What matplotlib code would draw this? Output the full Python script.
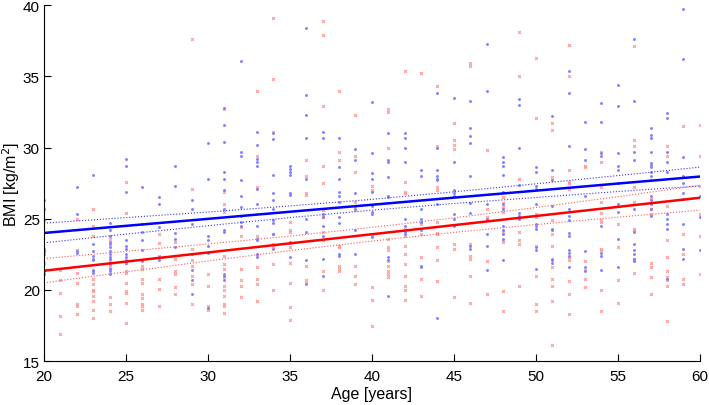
#!/usr/bin/env python

import numpy as np
from matplotlib import pyplot as plt

plt.rcParams['font.family'] = ['Liberation Sans', 'DejaVu Sans']

# scatter data: (age, BMI) read per integer age
blue_pts = {
    20: [26.3, 25.7, 24.9, 22.9, 22.7, 22.5, 21.4, 21.3, 21.1],
    22: [27.2, 25.3, 22.7, 22.6],
    23: [28.1, 23.2, 22.7, 22.4, 22.2, 22.1, 21.4, 21.3, 21.2],
    24: [24.7, 24.2, 23.8, 23.4, 23.2, 23.0, 22.7, 22.5, 22.3, 22.2, 21.8, 21.5, 21.3, 21.1],
    25: [29.2, 28.7, 26.9, 23.5, 23.1, 22.9, 22.5, 22.3, 22.1, 21.9],
    26: [27.2, 24.6, 24.1, 23.5, 22.8, 22.1, 22.0],
    27: [26.5, 26.0, 24.4, 22.3, 22.1],
    28: [28.7, 27.3, 24.0, 23.6, 23.0],
    29: [26.3, 25.7, 24.6, 22.5, 21.4, 20.7, 19.7],
    30: [30.3, 27.8, 23.8, 23.5, 23.1, 22.6, 18.7],
    31: [32.8, 31.6, 30.4, 28.3, 27.8, 27.0, 25.7, 24.2, 24.1, 21.1, 21.0, 20.7],
    32: [36.1, 29.7, 29.4, 27.7, 26.6, 25.8, 25.2, 24.8, 24.5],
    33: [31.1, 30.2, 29.2, 29.0, 28.7, 27.1, 26.0, 24.5, 23.6, 23.5, 22.5, 22.3],
    34: [31.0, 30.6, 28.1, 26.8, 26.3, 25.7, 24.9, 24.7, 23.9, 22.9],
    35: [28.7, 28.5, 28.3, 28.1, 26.8, 26.7, 23.4, 23.3, 22.3],
    36: [38.4, 33.7, 32.3, 30.7, 27.8, 25.0, 24.1, 22.1, 20.4],
    37: [31.1, 30.7, 25.3, 25.1, 24.5, 23.8, 22.2, 21.0],
    38: [30.7, 28.6, 27.8, 26.9, 26.6, 26.2, 25.1, 24.7, 22.5, 22.4],
    39: [29.9, 29.1, 26.8, 25.9, 25.7, 24.2, 22.5],
    40: [33.2, 29.6, 28.2, 27.8, 26.9, 25.9, 25.5, 25.3, 23.7],
    41: [31.0, 29.1, 29.0, 27.9, 26.6, 26.5, 22.3, 22.1, 19.6],
    42: [31.0, 30.7, 30.0, 29.0, 25.0, 24.5, 24.1, 23.9],
    43: [28.4, 28.0, 25.7, 25.0, 24.8, 24.2, 21.7, 21.6],
    44: [33.8, 30.0, 28.4, 28.0, 27.8, 27.7, 26.0, 18.0],
    45: [33.5, 29.0, 27.0, 26.8, 26.6, 25.3, 25.0, 24.5],
    46: [33.3, 31.4, 30.8, 30.3, 28.0, 26.1, 25.4, 23.1, 22.9],
    47: [37.3, 34.0, 26.0, 25.0, 23.9, 23.1, 21.4],
    48: [29.3, 29.0, 28.7, 28.1, 26.9, 26.0, 25.7, 24.5, 24.2, 23.9, 23.6, 22.1],
    49: [33.4, 33.0, 30.0, 27.4, 25.4, 25.2, 25.0],
    50: [28.6, 28.3, 27.3, 27.1, 26.0, 24.6, 24.5, 24.3, 23.0, 22.8, 21.5],
    51: [32.2, 28.4, 27.7, 25.9, 24.3, 24.2, 22.2, 22.1, 21.9],
    52: [35.4, 33.8, 30.1, 25.7, 25.2, 24.9, 24.0, 23.8, 22.8, 22.6, 22.4, 21.6],
    53: [31.8, 29.9, 29.1, 26.6, 22.7, 21.6, 21.3],
    54: [33.1, 31.8, 29.6, 29.4, 24.5, 22.6, 22.4, 21.4],
    55: [34.4, 32.9, 29.6, 28.7, 28.4, 27.5, 26.0, 25.5, 23.6, 21.6],
    56: [37.6, 33.3, 29.7, 29.1, 25.7, 24.1, 23.2, 22.8, 22.5, 22.2, 22.0],
    57: [31.4, 30.9, 30.7, 29.7, 28.9, 28.8, 28.6, 28.3, 28.0, 27.7, 26.6, 26.3, 26.0, 25.7, 25.2],
    58: [32.4, 32.1, 29.7, 29.0, 28.3, 25.3, 25.0, 24.6, 24.3, 20.8],
    59: [39.7, 36.2, 29.3, 28.0, 27.5, 26.8, 26.4, 24.6, 22.9, 22.2],
    60: [26.6, 25.1, 22.8],
}

red_pts = {
    20: [22.7, 21.9],
    21: [21.4, 20.7, 19.8, 18.2, 16.9],
    22: [25.0, 22.8, 21.2, 20.5, 19.0, 18.9, 18.3],
    23: [25.7, 24.5, 23.8, 20.8, 20.4, 20.0, 19.9, 19.6, 19.2, 18.6, 18.0],
    24: [23.6, 22.0, 21.6, 19.5, 19.0, 18.5],
    25: [27.6, 25.4, 21.9, 21.3, 21.2, 20.5, 19.9, 19.8, 19.1, 17.7],
    26: [21.7, 21.5, 20.8, 20.5, 19.7, 19.4, 19.0, 18.9, 18.6],
    27: [23.9, 23.3, 22.4, 20.8, 20.1, 18.9],
    28: [23.4, 22.2, 21.3, 21.1, 20.2, 19.7],
    29: [37.6, 27.1, 22.9, 22.1, 21.7, 21.0, 20.4, 19.0],
    30: [21.1, 20.3, 18.9, 18.6],
    31: [32.7, 26.9, 26.0, 25.5, 22.4, 21.8, 21.5, 20.9, 20.3, 20.0, 19.6, 19.0, 18.9, 18.4],
    32: [24.4, 23.8, 21.5, 20.7, 20.3, 19.5],
    33: [34.0, 29.4, 27.2, 23.8, 22.4, 21.6, 20.8, 20.4, 19.2],
    34: [39.1, 34.8, 31.1, 23.9, 23.2, 23.0, 21.8, 20.0],
    35: [24.8, 24.2, 24.1, 23.0, 21.9, 20.5, 18.8, 17.9],
    36: [29.1, 28.0, 26.8, 26.7, 21.7, 20.7, 20.5],
    37: [38.9, 37.9, 32.9, 28.7, 27.5, 25.6, 25.1, 24.1, 23.5, 21.3, 20.0],
    38: [34.0, 29.7, 29.1, 23.1, 23.0, 21.7, 21.5, 21.3],
    39: [32.3, 29.4, 28.3, 26.2, 25.6, 21.7, 21.0, 20.4],
    40: [27.3, 27.0, 23.8, 20.2, 19.3, 17.5],
    41: [32.7, 32.5, 30.0, 23.6, 23.0, 22.8, 22.0, 21.7, 21.3, 21.1, 20.9],
    42: [35.4, 27.6, 26.9, 26.8, 24.3, 23.8, 23.1, 22.5, 21.8, 21.0, 20.3, 20.0, 19.3],
    43: [35.2, 24.6, 23.9, 22.3, 20.8, 19.6],
    44: [34.3, 30.1, 27.2, 27.0, 24.8, 24.0, 23.9, 23.0, 22.1, 20.6],
    45: [31.7, 30.5, 30.2, 29.9, 23.2, 22.9, 19.5],
    46: [35.9, 35.7, 23.2, 22.4, 22.2, 21.0, 19.1],
    47: [29.8, 25.7, 25.1, 22.0, 19.7],
    48: [26.5, 26.1, 25.8, 25.5, 24.1, 23.5, 23.4, 19.9, 18.5],
    49: [38.1, 35.0, 27.8, 24.1, 23.5, 23.2, 20.3],
    50: [36.3, 32.1, 25.3, 25.1, 23.1, 21.0, 19.0, 18.5],
    51: [31.7, 31.2, 27.9, 24.9, 23.9, 23.1, 21.6, 20.8, 20.3, 19.2, 16.1],
    52: [37.2, 35.0, 28.4, 27.6, 27.5, 27.1, 22.3, 22.1, 20.6, 19.7, 18.3],
    53: [28.7, 28.6, 22.0, 21.4, 20.8, 20.2],
    54: [29.7, 29.0, 27.2, 26.2, 25.4, 24.9, 24.8, 22.9, 22.8, 20.0, 18.5],
    55: [24.6, 23.0, 20.7, 19.1],
    56: [37.1, 30.5, 30.1, 27.2, 26.2, 24.3, 24.2, 22.2, 22.1, 21.2],
    57: [26.4, 25.7, 25.3, 21.9, 21.6, 20.9, 19.7],
    58: [30.1, 29.4, 25.9, 23.5, 22.3, 21.3, 20.9, 20.7, 20.3, 17.8],
    59: [31.5, 23.9, 22.5, 20.8, 20.4],
    60: [31.6, 29.4, 27.3, 25.3, 23.8, 21.1],
}

# fitted lines with confidence bands, read at these ages
fit_age    = [20, 25, 30, 35, 40, 45, 50, 55, 60]
blue_fit   = [24.00, 24.50, 24.99, 25.49, 25.98, 26.48, 26.97, 27.47, 27.96]
blue_upper = [24.69, 25.08, 25.47, 25.90, 26.36, 26.89, 27.45, 28.03, 28.62]
blue_lower = [23.31, 23.92, 24.51, 25.08, 25.60, 26.07, 26.49, 26.91, 27.30]
red_fit    = [21.35, 21.99, 22.63, 23.27, 23.91, 24.55, 25.19, 25.83, 26.47]
red_upper  = [22.20, 22.71, 23.23, 23.78, 24.39, 25.06, 25.79, 26.55, 27.34]
red_lower  = [20.50, 21.27, 22.03, 22.76, 23.43, 24.04, 24.59, 25.11, 25.60]


def flatten(pts):
    xs, ys = [], []
    for age, vals in pts.items():
        xs += [age] * len(vals)
        ys += vals
    return np.array(xs), np.array(ys)


def main():
    fig = plt.figure(figsize=(7.09, 4.06), dpi=100)
    ax = fig.add_axes([0.062, 0.108, 0.925, 0.877])

    bx, by = flatten(blue_pts)
    rx, ry = flatten(red_pts)
    ax.plot(rx, ry, 'x', color='#ff9999', markersize=2.0, mew=0.8)
    ax.plot(bx, by, '.', color='#7f7fff', markersize=4.2, mew=0)

    ax.plot(fit_age, blue_fit, '-', color='#0000ff', lw=1.8)
    ax.plot(fit_age, blue_upper, ':', color='#3333ff', lw=0.8)
    ax.plot(fit_age, blue_lower, ':', color='#3333ff', lw=0.8)
    ax.plot(fit_age, red_fit, '-', color='#ff0000', lw=1.8)
    ax.plot(fit_age, red_upper, ':', color='#ff5555', lw=0.8)
    ax.plot(fit_age, red_lower, ':', color='#ff5555', lw=0.8)

    ax.set_xlim(20, 60)
    ax.set_ylim(15, 40)
    ax.set_xticks(np.arange(20, 61, 5))
    ax.set_yticks(np.arange(15, 41, 5))
    ax.spines['top'].set_visible(False)
    ax.spines['right'].set_visible(False)
    ax.tick_params(direction='in', length=5, labelsize=11, pad=3)
    ax.tick_params(axis='x', pad=6)
    ax.set_xlabel('Age [years]', fontsize=11.5, labelpad=2)
    ax.set_ylabel('BMI [kg/m$^2$]', fontsize=11.5)
    ax.yaxis.set_label_coords(-0.033, 0.5)

    fig.savefig('out.png', dpi=100)


if __name__ == '__main__':
    main()
